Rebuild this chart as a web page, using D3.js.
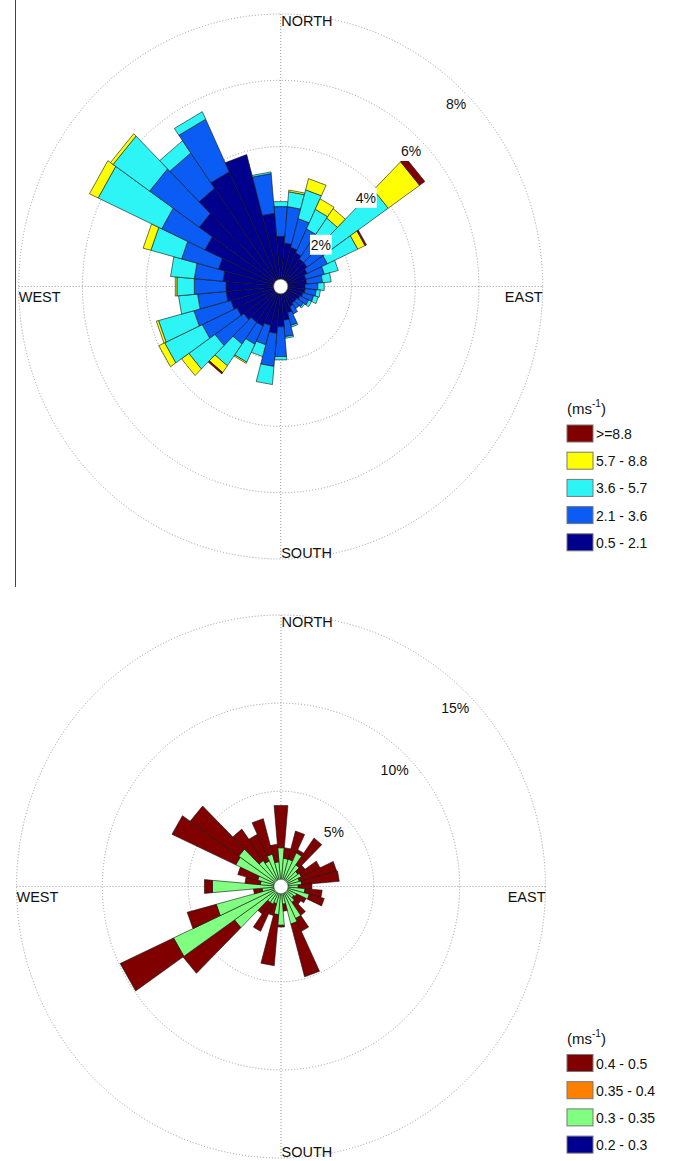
<!DOCTYPE html>
<html><head><meta charset="utf-8">
<script src="https://cdn.jsdelivr.net/npm/d3@7/dist/d3.min.js"></script>
<style>body{margin:0;background:#fff}svg{display:block}text{font-family:"Liberation Sans",Arial,sans-serif;fill:#111}</style>
</head><body><svg id="c" width="673" height="1161"></svg>
<script>
// ---------- DATA ----------
const directions = [0,10,20,30,40,50,60,70,80,90,100,110,120,130,140,150,160,170,180,190,200,210,220,230,240,250,260,270,280,290,300,310,320,330,340,350];

// Top rose: frequency (%) per speed class, per direction
const topClasses = ["0.5 - 2.1","2.1 - 3.6","3.6 - 5.7","5.7 - 8.8",">=8.8"];
const topColors = ["#00008c","#0a5cf5","#2ef5f5","#ffff00","#800000"];
const topNavy   = [1.3,1.1,1.0,0.9,0.8,0.8,0.7,0.6,0.6,0.55,0.55,0.5,0.45,0.4,0.4,0.45,0.6,0.8,1.0,1.2,1.0,1.1,1.1,1.2,1.3,1.4,1.5,1.5,1.6,1.8,2.4,2.9,3.4,3.6,3.9,2.0];
const topBlue   = [0.9,1.1,0.9,0.8,0.7,0.9,0.7,0.6,0.5,0.4,0.35,0.35,0.3,0.25,0.2,0.25,0.4,0.5,0.9,1.0,0.6,0.6,0.8,1.1,1.2,1.2,0.9,1.0,0.9,1.2,1.5,1.9,1.3,1.75,0,1.2];
const topCyan   = [0.15,0.45,0.9,0.65,0.8,2.2,1.05,0.45,0.27,0.2,0.13,0.15,0.1,0.05,0,0,0.05,0.05,0.1,0.55,0.37,0.6,0.8,1.0,1.3,1.15,0.6,0.55,0.75,1.0,2.2,1.4,0.45,0.25,0,0.05];
const topYellow = [0,0.05,0.35,0.35,0.35,1.2,0.25,0,0,0,0,0,0,0,0,0,0,0,0,0,0,0.04,0.25,0.28,0.2,0.07,0,0.05,0,0.25,0.3,0.1,0,0,0,0];
const topMaroon = [0,0,0,0,0,0.2,0.05,0,0,0,0,0,0,0,0,0,0,0,0,0,0,0,0.05,0,0,0,0,0,0,0,0,0,0,0,0,0];
const topTicks = [2,4,6,8];
const topTickLabels = ["2%","4%","6%","8%"];

// Bottom rose
const botClasses = ["0.2 - 0.3","0.3 - 0.35","0.35 - 0.4","0.4 - 0.5"];
const botColors = ["#000090","#80ff80","#ff8000","#800000"];
const botNavy   = [0,0,0,0,0,0,0,0,0,0,0,0,0,0,0,0,0,0,0,0,0,0,0,0,0,0,0,0,0,0,0,0,0,0,0,0];
const botGreen  = [1.8,1.2,1.2,1.7,1.1,0.8,0.9,0.7,0.8,0.6,1.0,1.3,0.6,0.5,0.7,1.6,1.8,0.6,1.8,1.2,0.6,0.7,0.7,2.9,6.5,3.5,0.7,3.6,0.8,1.0,2.5,2.6,1.4,1.2,1.5,1.0];
const botOrange = [0,0,0,0,0,0,0,0,0,0,0,0,0,0,0,0,0,0,0,0,0,0,0,0,0,0,0,0,0,0,0,0,0,0,0,0];
const botMaroon = [2.4,0.6,1.65,0.2,1.85,0.5,1.2,2.25,2.2,0.8,1.0,0.9,0.6,0.5,0.9,0.8,3.1,0.4,0.1,2.9,0.7,1.7,0.8,3.66,3.43,1.75,0.5,0.47,0.9,1.2,4.1,3.45,2.17,1.66,2.08,1.0];
const botTicks = [5,10,15];
const botTickLabels = ["5%","10%","15%"];

const compass = ["NORTH","EAST","SOUTH","WEST"];

// ---------- DRAW ----------
const svg = d3.select("#c");
svg.append("rect").attr("width",673).attr("height",1161).attr("fill","#fff");
svg.append("line").attr("x1",15.5).attr("x2",15.5).attr("y1",0).attr("y2",587)
  .attr("stroke","#444").attr("stroke-width",1);

function rose(o){
  const g = svg.append("g").attr("transform",`translate(${o.cx},${o.cy})`);
  const ys = o.ry/o.rx;
  const rScale = d3.scaleLinear().domain([0,o.max]).range([7,o.rx]);
  const aScale = d3.scaleLinear().domain([0,360]).range([0,2*Math.PI]);
  const P = (r,a)=>[r*Math.sin(a), -r*Math.cos(a)*ys];

  // grid circles
  o.ticks.forEach(t=>{
    const r = rScale(t);
    g.append("ellipse").attr("rx",r).attr("ry",r*ys)
      .attr("fill","none").attr("stroke","#9a9a9a").attr("stroke-width",1).attr("stroke-dasharray","1 2");
  });
  g.append("line").attr("x1",-o.rx).attr("x2",o.rx).attr("y1",0).attr("y2",0)
    .attr("stroke","#9a9a9a").attr("stroke-dasharray","1 2");
  g.append("line").attr("x1",0).attr("x2",0).attr("y1",-o.ry).attr("y2",o.ry)
    .attr("stroke","#9a9a9a").attr("stroke-dasharray","1 2");

  // bars
  const half = 5;
  directions.forEach((d,i)=>{
    let acc = 0;
    o.series.forEach((s,k)=>{
      const v = s[i];
      if(v<=0) return;
      const r1 = rScale(acc), r2 = rScale(acc+v);
      acc += v;
      const a1 = aScale(d-half), a2 = aScale(d+half);
      const pts = [P(r1,a1),P(r2,a1),P(r2,a2),P(r1,a2)];
      g.append("polygon").attr("points",pts.map(p=>p.join(",")).join(" "))
        .attr("fill",o.colors[k]).attr("stroke","#111").attr("stroke-width",0.6)
        .attr("stroke-linejoin","round");
    });
  });
  // center hole
  g.append("ellipse").attr("rx",7).attr("ry",7*ys).attr("fill","#fff").attr("stroke","#666").attr("stroke-width",0.6);

  // percent labels
  o.ticks.forEach((t,i)=>{
    const r = rScale(t) - o.labOff;
    const x = r*Math.SQRT1_2, y = -r*Math.SQRT1_2*ys;
    const lg = g.append("g").attr("transform",`translate(${x},${y})`);
    const txt = o.tickLabels[i];
    const w = txt.length*7.8+6;
    lg.append("rect").attr("x",-w/2).attr("y",-10).attr("width",w).attr("height",20).attr("fill","#fff");
    lg.append("text").attr("text-anchor","middle").attr("dy","0.36em").attr("font-size",14).text(txt);
  });

  // compass labels
  g.append("text").attr("x",0.5).attr("y",-o.ry+11.5).attr("font-size",14.5).text(compass[0]);
  g.append("text").attr("x",o.rx).attr("y",15).attr("text-anchor","end").attr("font-size",14.5).text(compass[1]);
  g.append("text").attr("x",0.5).attr("y",o.ry-1.5).attr("font-size",14.5).text(compass[2]);
  g.append("text").attr("x",-o.rx).attr("y",15).attr("font-size",14.5).text(compass[3]);

  // legend
  const L = svg.append("g");
  const t = L.append("text").attr("x",567).attr("y",o.legY).attr("font-size",15);
  t.append("tspan").text("(ms");
  t.append("tspan").attr("font-size",10).attr("dy",-7).text("-1");
  t.append("tspan").attr("dy",7).text(")");
  const order = o.classes.map((c,k)=>k).reverse();
  order.forEach((k,j)=>{
    const y = o.legY+11+j*27.2;
    L.append("rect").attr("x",567).attr("y",y).attr("width",26).attr("height",17)
      .attr("fill",o.colors[k]).attr("stroke","#777").attr("stroke-width",1);
    L.append("text").attr("x",596).attr("y",y+14).attr("font-size",14).text(o.classes[k]);
  });
}

rose({cx:280.7, cy:286.5, rx:262, ry:272.5, max:8, ticks:topTicks, tickLabels:topTickLabels,
  series:[topNavy,topBlue,topCyan,topYellow,topMaroon], colors:topColors, classes:topClasses,
  labOff:14, legY:414});
rose({cx:281, cy:886.5, rx:264.5, ry:271.5, max:15, ticks:botTicks, tickLabels:botTickLabels,
  series:[botNavy,botGreen,botOrange,botMaroon], colors:botColors, classes:botClasses,
  labOff:18, legY:1043.5});
</script></body></html>
